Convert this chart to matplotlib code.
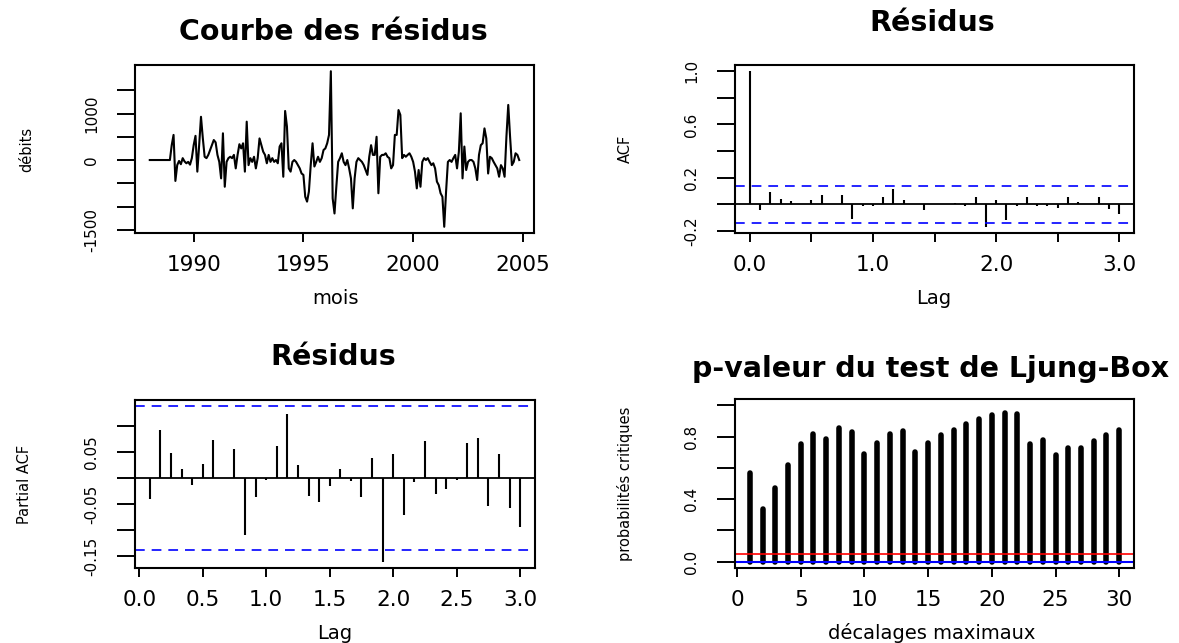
import matplotlib
matplotlib.use('Agg')
import matplotlib.pyplot as plt
import numpy as np

plt.rcParams['font.family'] = ['DejaVu Sans']
plt.rcParams['lines.scale_dashes'] = False

# ---------------- data ----------------
residus = [0, 0, 0, 0, 0, 0, 0, 0, 0, 0, 0, 0,
           320, 540, -450, -110, -20, -90, 40, -30, -70, -40, -100, 40,
           320, 520, -250, 320, 930, 470, 70, 40, 110, 215, 320, 430,
           380, 110, -40, -395, 575, -575, -40, 40, 70, 40, 110, -180,
           110, 340, 250, 360, -250, 825, -110, 40, -40, 70, -180, 40,
           465, 320, 180, 110, -70, 110, -40, 40, -40, 0, -70, 290,
           360, -360, 1055, 720, -180, -250, -40, 0, -40, -110, -180, -290,
           -320, -790, -895, -680, -110, 360, -140, -40, 70, -40, 40, 215,
           250, 360, 540, 1910, -825, -1150, -575, -40, 40, 145, -40, -110,
           0, -180, -395, -1040, -395, -40, 40, 0, -40, -110, -215, -320,
           70, 320, 110, 110, 500, -715, 70, 110, 110, 145, 70, 40,
           -180, -110, 540, 540, 1075, 970, 40, 110, 70, 110, 145, 70,
           -40, -250, -610, -215, -575, -40, 40, 0, 40, -40, -110, -70,
           -180, -465, -540, -715, -790, -1436, -680, -40, 0, -40, 40, 110,
           -180, 180, 1005, -395, 290, -215, -40, 0, 0, -40, -180, -430,
           110, 320, 360, 680, 465, -290, 70, 40, -40, -110, -180, -360,
           -110, -180, -360, 500, 1185, 500, -110, -40, 145, 110, 0]
annee_debut = 1988

acf_vals = [1.0, -0.040, 0.096, 0.042, 0.025, 0.003, 0.035, 0.069, 0.002, 0.069,
            -0.106, -0.015, -0.015, 0.052, 0.116, 0.035, 0.001, -0.044, 0.002, 0.001,
            0.007, -0.015, 0.059, -0.168, 0.035, -0.114, -0.015, 0.059, -0.015, -0.015,
            -0.027, 0.059, 0.017, 0.002, 0.052, -0.032, -0.069]

pacf_vals = [-0.040, 0.093, 0.049, 0.018, -0.013, 0.028, 0.074, 0.001, 0.056, -0.110,
             -0.037, -0.003, 0.063, 0.124, 0.026, -0.034, -0.045, -0.015, 0.017, -0.006,
             -0.037, 0.040, -0.161, 0.047, -0.071, -0.008, 0.071, -0.031, -0.021, -0.003,
             0.068, 0.077, -0.053, 0.047, -0.057, -0.094]

lb_lags = list(range(1, 31))
lb_pvals = [0.565, 0.338, 0.472, 0.620, 0.750, 0.818, 0.786, 0.856, 0.827, 0.690,
            0.757, 0.818, 0.833, 0.704, 0.757, 0.812, 0.841, 0.880, 0.909, 0.935,
            0.949, 0.947, 0.750, 0.780, 0.680, 0.725, 0.725, 0.772, 0.812, 0.839]

clim = 0.139

# ---------------- layout helpers ----------------
W, H = 1179, 643
fig = plt.figure(figsize=(W / 100, H / 100), dpi=100)

def ax_px(l, t, r, b):
    return fig.add_axes([l / W, 1 - b / H, (r - l) / W, (b - t) / H])

def fx(x):
    return x / W

def fy(y):
    return 1 - y / H

XTICKFS = 15.5
YTICKFS = 11
LABFS = 14
YLABFS = 10.5
TITFS = 20.5

def style(ax):
    for s in ax.spines.values():
        s.set_linewidth(1.5)
    ax.tick_params(axis='x', length=6.5, width=1.4, pad=9, labelsize=XTICKFS, direction='out')
    ax.tick_params(axis='y', length=12.7, width=1.4, pad=13, labelsize=YTICKFS, direction='out',
                   labelrotation=90)
    for lbl in ax.get_yticklabels():
        lbl.set_va('center')

def pad4(lo, hi):
    r = hi - lo
    return lo - 0.04 * r, hi + 0.04 * r

# ---------------- top-left: residual curve ----------------
ax1 = ax_px(135, 65, 534, 233)
res = np.array(residus, dtype=float)
t = annee_debut + np.arange(len(res)) / 12.0
ax1.plot(t, res, color='black', lw=1.5)
ax1.set_xlim(*pad4(t.min(), t.max()))
ax1.set_ylim(*pad4(res.min(), res.max()))
ax1.set_xticks([1990, 1995, 2000, 2005])
ax1.set_xticklabels(['1990', '1995', '2000', '2005'])
yt = [-1500, -1000, -500, 0, 500, 1000, 1500]
ax1.set_yticks(yt)
ax1.set_yticklabels(['-1500', '', '', '0', '', '1000', ''])
style(ax1)
fig.text(fx(333), fy(40), 'Courbe des résidus', ha='center', va='baseline',
         fontsize=TITFS, fontweight='bold')
fig.text(fx(335), fy(304), 'mois', ha='center', va='baseline', fontsize=LABFS)
fig.text(fx(27), fy(149), 'débits', ha='center', va='center', rotation=90, fontsize=YLABFS)

# ---------------- top-right: ACF ----------------
ax2 = ax_px(735, 65, 1134, 233)
acf = np.array(acf_vals)
lag_acf = np.arange(len(acf)) / 12.0
ax2.vlines(lag_acf, 0, acf, color='black', lw=1.5)
ax2.axhline(0, color='black', lw=1.3)
for c in (clim, -clim):
    ax2.axhline(c, color='blue', lw=1.2, linestyle=(0, (7, 5)))
ax2.set_xlim(*pad4(lag_acf.min(), lag_acf.max()))
ax2.set_ylim(*pad4(min(acf.min(), -clim), max(acf.max(), clim)))
ax2.set_xticks([0, 0.5, 1.0, 1.5, 2.0, 2.5, 3.0])
ax2.set_xticklabels(['0.0', '', '1.0', '', '2.0', '', '3.0'])
ax2.set_yticks([-0.2, 0.0, 0.2, 0.4, 0.6, 0.8, 1.0])
ax2.set_yticklabels(['-0.2', '', '0.2', '', '0.6', '', '1.0'])
style(ax2)
fig.text(fx(932), fy(31), 'Résidus', ha='center', va='baseline',
         fontsize=TITFS, fontweight='bold')
fig.text(fx(934), fy(304), 'Lag', ha='center', va='baseline', fontsize=LABFS)
fig.text(fx(625), fy(149), 'ACF', ha='center', va='center', rotation=90, fontsize=YLABFS)

# ---------------- bottom-left: PACF ----------------
ax3 = ax_px(135, 400, 535, 568)
pacf = np.array(pacf_vals)
lag_pacf = np.arange(1, len(pacf) + 1) / 12.0
ax3.vlines(lag_pacf, 0, pacf, color='black', lw=1.5)
ax3.axhline(0, color='black', lw=1.3)
for c in (clim, -clim):
    ax3.axhline(c, color='blue', lw=1.2, linestyle=(0, (7, 5)))
ax3.set_xlim(*pad4(lag_pacf.min(), lag_pacf.max()))
ax3.set_ylim(*pad4(min(pacf.min(), -clim), max(pacf.max(), clim)))
ax3.set_xticks([0, 0.5, 1.0, 1.5, 2.0, 2.5, 3.0])
ax3.set_xticklabels(['0.0', '0.5', '1.0', '1.5', '2.0', '2.5', '3.0'])
ax3.set_yticks([-0.15, -0.10, -0.05, 0.0, 0.05, 0.10])
ax3.set_yticklabels(['-0.15', '', '-0.05', '', '0.05', ''])
style(ax3)
fig.text(fx(333), fy(365), 'Résidus', ha='center', va='baseline',
         fontsize=TITFS, fontweight='bold')
fig.text(fx(335), fy(639), 'Lag', ha='center', va='baseline', fontsize=LABFS)
fig.text(fx(25), fy(484), 'Partial ACF', ha='center', va='center', rotation=90, fontsize=YLABFS)

# ---------------- bottom-right: Ljung-Box p-values ----------------
ax4 = ax_px(735, 399, 1134, 568)
lbx = np.array(lb_lags, dtype=float)
lbp = np.array(lb_pvals)
ax4.vlines(lbx, 0, lbp, color='black', lw=4.0, capstyle='round')
ax4.axhline(0.05, color='red', lw=1.2)
ax4.axhline(0, color='blue', lw=1.5)
ax4.set_xlim(*pad4(lbx.min(), lbx.max()))
ax4.set_ylim(*pad4(0, 1))
ax4.set_xticks([0, 5, 10, 15, 20, 25, 30])
ax4.set_xticklabels(['0', '5', '10', '15', '20', '25', '30'])
ax4.set_yticks([0.0, 0.2, 0.4, 0.6, 0.8, 1.0])
ax4.set_yticklabels(['0.0', '', '0.4', '', '0.8', ''])
style(ax4)
fig.text(fx(931), fy(377), 'p-valeur du test de Ljung-Box', ha='center', va='baseline',
         fontsize=TITFS, fontweight='bold')
fig.text(fx(932), fy(639), 'décalages maximaux', ha='center', va='baseline', fontsize=LABFS)
fig.text(fx(625), fy(484), 'probabilités critiques', ha='center', va='center', rotation=90,
         fontsize=YLABFS)

fig.savefig('out.png', dpi=100)
